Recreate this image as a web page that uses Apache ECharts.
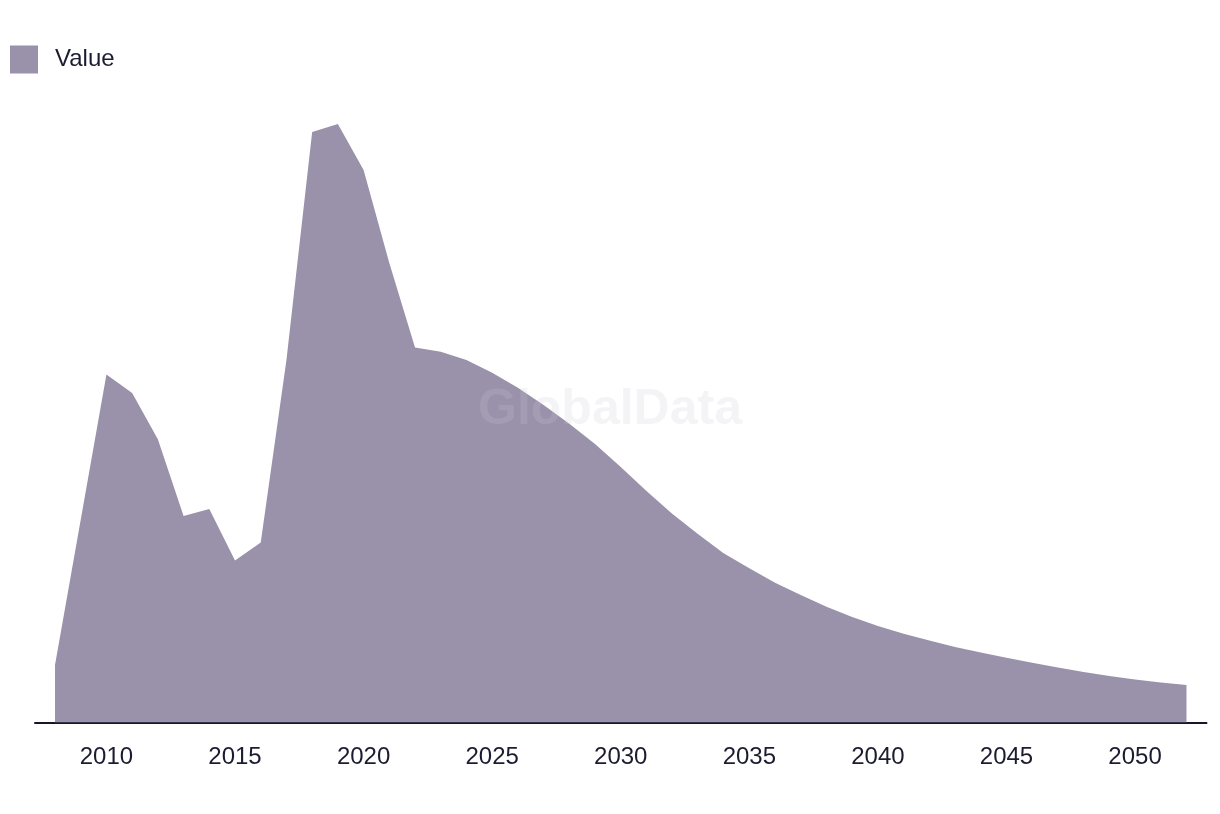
<!DOCTYPE html>
<html>
<head>
<meta charset="utf-8">
<script src="https://cdn.jsdelivr.net/npm/echarts@6/dist/echarts.min.js"></script>
<style>
  html, body { margin: 0; padding: 0; background: #ffffff; }
  #chart { width: 1220px; height: 814px; }
</style>
</head>
<body>
<div id="chart"></div>
<script>
const years = [2008, 2009, 2010, 2011, 2012, 2013, 2014, 2015, 2016, 2017,
  2018, 2019, 2020, 2021, 2022, 2023, 2024, 2025, 2026, 2027,
  2028, 2029, 2030, 2031, 2032, 2033, 2034, 2035, 2036, 2037,
  2038, 2039, 2040, 2041, 2042, 2043, 2044, 2045, 2046, 2047,
  2048, 2049, 2050, 2051, 2052];
const values = [9.6, 33.8, 58.0, 54.9, 47.2, 34.4, 35.6, 27.0, 30.0, 60.4,
  98.4, 99.75, 92.1, 76.6, 62.5, 61.8, 60.4, 58.3, 55.8, 52.9,
  49.8, 46.4, 42.6, 38.6, 34.8, 31.4, 28.2, 25.7, 23.3, 21.25,
  19.3, 17.6, 16.1, 14.8, 13.65, 12.6, 11.65, 10.78, 9.95, 9.15,
  8.42, 7.75, 7.15, 6.65, 6.25];
const tickLabels = [2010, 2015, 2020, 2025, 2030, 2035, 2040, 2045, 2050];
const seriesName = 'Value';

const chart = echarts.init(document.getElementById('chart'), null, { renderer: 'canvas' });
chart.setOption({
  backgroundColor: '#ffffff',
  animation: false,
  textStyle: { fontFamily: 'Liberation Sans, Arial, sans-serif' },
  legend: {
    left: 5,
    top: 40.5,
    icon: 'rect',
    itemWidth: 28,
    itemHeight: 28,
    textStyle: { fontSize: 24, color: '#1c1c30', padding: [0, 0, 0, 12] },
    data: [seriesName]
  },
  grid: { left: 35, right: 13.5, top: 122.5, bottom: 91.5 },
  xAxis: {
    type: 'value',
    min: 2007.222,
    max: 2052.778,
    axisLine: { show: true, lineStyle: { color: '#15152b', width: 2 } },
    axisTick: { show: false },
    splitLine: { show: false },
    axisLabel: {
      customValues: tickLabels,
      fontSize: 24,
      color: '#1c1c30',
      margin: 23,
      formatter: v => String(v)
    }
  },
  yAxis: { type: 'value', min: 0, max: 100, show: false, splitLine: { show: false } },
  graphic: [{
    type: 'text',
    left: 'center',
    top: 385,
    z: 100,
    silent: true,
    style: {
      text: 'GlobalData',
      fontSize: 50,
      fontWeight: 'bold',
      fontFamily: 'Liberation Sans, Arial, sans-serif',
      fill: 'rgba(202,202,208,0.2)'
    }
  }],
  series: [{
    name: seriesName,
    type: 'line',
    data: years.map((y, i) => [y, values[i]]),
    showSymbol: false,
    smooth: false,
    lineStyle: { width: 0, color: '#9a91aa' },
    itemStyle: { color: '#9a91aa' },
    areaStyle: { color: '#9a91aa', opacity: 1 }
  }]
});
</script>
</body>
</html>
